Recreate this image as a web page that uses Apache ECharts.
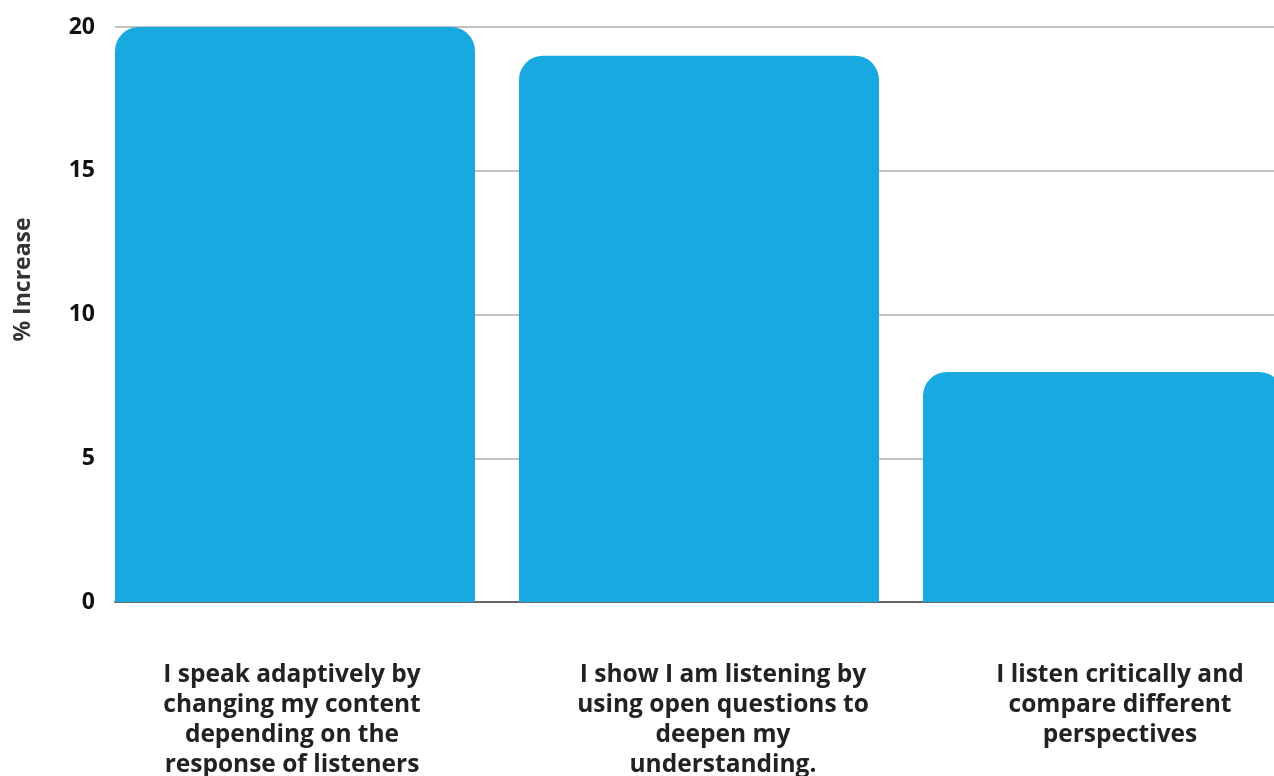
<!DOCTYPE html>
<html>
<head>
<meta charset="utf-8">
<script src="https://cdn.jsdelivr.net/npm/echarts@6/dist/echarts.min.js"></script>
<style>
  html, body { margin: 0; padding: 0; background: #ffffff; }
  #chart { width: 1274px; height: 776px; }
</style>
</head>
<body>
<div id="chart"></div>
<script>
// Survey statements (category labels, wrapped)
const categories = [
  'I speak adaptively by\nchanging my content\ndepending on the\nresponse of listeners',
  'I show I am listening by\nusing open questions to\ndeepen my\nunderstanding.',
  'I listen critically and\ncompare different\nperspectives'
];
// % increase per statement
const increases = [20, 19, 8];
// y-axis ticks
const yTicks = [0, 5, 10, 15, 20];

// horizontal nudge of each statement label under its bar (px)
const labelNudge = [-3, 24, 17];

const FONT = '"Open Sans", Lato, sans-serif';

const chart = echarts.init(document.getElementById('chart'), null, { renderer: 'canvas' });

const barData = increases.map((v, i) => ({
  value: [i, v],
  label: { formatter: categories[i], offset: [labelNudge[i], 0] }
}));

chart.setOption({
  animation: false,
  backgroundColor: '#ffffff',
  grid: { left: 115, right: 0, top: 27, bottom: 174, containLabel: false },
  xAxis: {
    type: 'value',
    // each statement sits at an integer position; wide bars fill most of a slot
    min: -0.4455,
    max: 2.4233,
    axisLine: { show: true, onZero: true, lineStyle: { color: '#666666', width: 2 } },
    axisTick: { show: false },
    axisLabel: { show: false },
    splitLine: { show: false }
  },
  yAxis: {
    type: 'value',
    min: yTicks[0],
    max: yTicks[yTicks.length - 1],
    interval: yTicks[1] - yTicks[0],
    name: '% Increase',
    nameLocation: 'middle',
    nameGap: 80,
    nameTextStyle: {
      fontFamily: FONT, fontWeight: 'bold', fontSize: 23, color: '#333333',
      padding: [0, 0, 0, 70]
    },
    axisLine: { show: false },
    axisTick: { show: false },
    axisLabel: {
      margin: 20,
      fontFamily: FONT, fontWeight: 'bold', fontSize: 23, color: '#111111'
    },
    splitLine: { show: true, lineStyle: { color: '#C2C2C2', width: 2 } }
  },
  series: [{
    type: 'bar',
    data: barData,
    barWidth: 360,
    clip: false,
    itemStyle: { color: '#19A9E1', borderRadius: [24, 24, 0, 0] },
    label: {
      show: true,
      position: 'bottom',
      distance: 58,
      align: 'center',
      fontFamily: FONT,
      fontWeight: 'bold',
      fontSize: 24.5,
      lineHeight: 30,
      color: '#222222'
    }
  }]
});
</script>
</body>
</html>
